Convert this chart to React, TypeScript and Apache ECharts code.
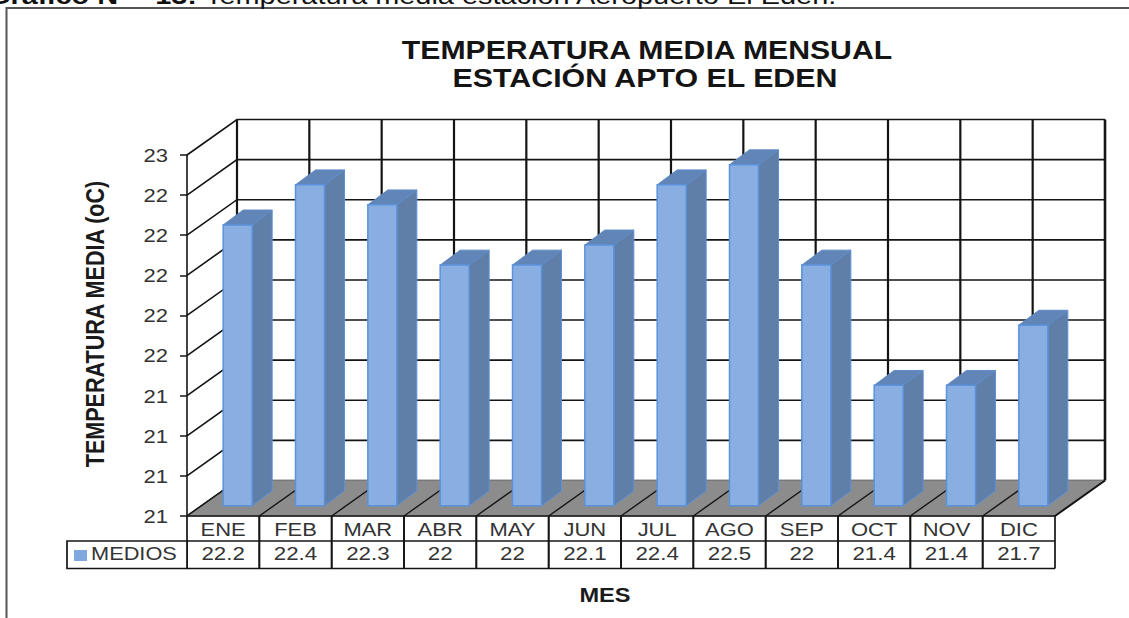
import React, { useEffect, useRef } from "react";
import * as echarts from "echarts";

const categories = ["ENE", "FEB", "MAR", "ABR", "MAY", "JUN", "JUL", "AGO", "SEP", "OCT", "NOV", "DIC"];
const medios = [22.2, 22.4, 22.3, 22, 22, 22.1, 22.4, 22.5, 22, 21.4, 21.4, 21.7];
const axisTicks = [20.8, 21, 21.2, 21.4, 21.6, 21.8, 22, 22.2, 22.4, 22.6];
const seriesName = "MEDIOS";
const titleLines = ["TEMPERATURA MEDIA MENSUAL", "ESTACIÓN APTO EL EDEN"];
const yName = "TEMPERATURA MEDIA (oC)";
const xName = "MES";
const headBold = "Gráfico N° - 13:";
const headText = "Temperatura media estación Aeropuerto El Edén.";

const FONT = "'Liberation Sans', Arial, sans-serif";
const DX = 50; // wall depth offset
const DY = -35.5;
const INK = "#141414";
const ROW1 = 25; // table row heights
const ROW2 = 27.5;
const TEXT = "#333";

const idx = (arr: any[]) => arr.map((v, i) => [i, v]);

const option: any = {
  animation: false,
  backgroundColor: "#fff",
  grid: { left: 187, right: 74, top: 155, bottom: 102 },
  xAxis: {
    type: "category",
    data: categories,
    boundaryGap: true,
    axisLine: { show: false },
    axisTick: { show: false },
    axisLabel: { show: false },
  },
  yAxis: {
    type: "value",
    min: 20.8,
    max: 22.6,
    interval: 0.2,
    splitLine: { show: false },
    axisLine: { show: true, lineStyle: { color: INK, width: 1.6 } },
    axisTick: { show: true, length: 7, lineStyle: { color: INK, width: 1.5 } },
    axisLabel: { show: false },
  },
  series: [
    {
      // left and back wall rules and the tick labels, one per axis tick
      type: "custom",
      z: 1,
      silent: true,
      data: idx(axisTicks),
      encode: { y: 1 },
      renderItem: (params: any, api: any) => {
        const v = api.value(1);
        const cs = params.coordSys;
        const y = api.coord([0, v])[1];
        return {
          type: "group",
          children: [
            {
              type: "polyline",
              shape: {
                points: [
                  [cs.x, y],
                  [cs.x + DX, y + DY],
                  [cs.x + cs.width + DX, y + DY],
                ],
              },
              style: { fill: "none", stroke: INK, lineWidth: 1.6 },
            },
            {
              type: "text",
              x: cs.x - 19,
              y,
              scaleX: 1.16,
              style: {
                text: String(Math.round(v)),
                align: "right",
                verticalAlign: "middle",
                fontFamily: FONT,
                fontSize: 19,
                fill: TEXT,
              },
            },
          ],
        };
      },
    },
    {
      // back wall verticals at category boundaries, plus the floor
      type: "custom",
      z: 2,
      silent: true,
      data: idx(categories.concat([""])),
      encode: { x: 0 },
      renderItem: (params: any, api: any) => {
        const i = api.value(0);
        const cs = params.coordSys;
        const x = cs.x + (cs.width * i) / categories.length;
        const yb = cs.y + cs.height;
        const children: any[] = [
          {
            type: "line",
            shape: { x1: x + DX, y1: cs.y + DY, x2: x + DX, y2: yb + DY },
            style: { stroke: INK, lineWidth: i === categories.length ? 2.6 : 2.2 },
          },
        ];
        if (i === 0) {
          children.push({
            type: "polygon",
            shape: {
              points: [
                [cs.x, yb],
                [cs.x + cs.width, yb],
                [cs.x + cs.width + DX, yb + DY],
                [cs.x + DX, yb + DY],
              ],
            },
            style: { fill: "#8c8c8c", stroke: "#777", lineWidth: 1 },
          });
        }
        return { type: "group", children };
      },
    },
    {
      // floor diagonals
      type: "custom",
      z: 3,
      silent: true,
      data: idx(categories.concat([""])),
      encode: { x: 0 },
      renderItem: (params: any, api: any) => {
        const i = api.value(0);
        const cs = params.coordSys;
        const x = cs.x + (cs.width * i) / categories.length;
        const yb = cs.y + cs.height;
        return {
          type: "line",
          shape: { x1: x, y1: yb, x2: x + DX, y2: yb + DY },
          style: { stroke: INK, lineWidth: i === categories.length ? 2 : 1.4 },
        };
      },
    },
    {
      // 3D bars
      type: "custom",
      name: seriesName,
      z: 4,
      data: idx(medios),
      encode: { x: 0, y: 1 },
      renderItem: (params: any, api: any) => {
        const top = api.coord([api.value(0), api.value(1)]);
        const base = api.coord([api.value(0), 20.8]);
        const w = 29;
        const fx = 0.29 * DX, fy = 0.29 * DY;
        const ddx = 0.4 * DX, ddy = 0.42 * DY;
        const x0 = top[0] + fx - w / 2;
        const x1 = x0 + w;
        const yt = top[1] + fy;
        const yb = base[1] + fy;
        const edge = "#5b92da";
        return {
          type: "group",
          children: [
            {
              type: "polygon",
              shape: { points: [[x1, yt], [x1 + ddx, yt + ddy], [x1 + ddx, yb + ddy], [x1, yb]] },
              style: { fill: "#5f7fa8", stroke: edge, lineWidth: 1 },
            },
            {
              type: "polygon",
              shape: { points: [[x0, yt], [x0 + ddx, yt + ddy], [x1 + ddx, yt + ddy], [x1, yt]] },
              style: { fill: "#6285b8", stroke: "#5f8ac6", lineWidth: 1 },
            },
            {
              type: "rect",
              shape: { x: x0, y: yt, width: w, height: yb - yt },
              style: { fill: "#88aee2", stroke: edge, lineWidth: 1.5 },
            },
          ],
        };
      },
    },
    {
      // data table under the axis
      type: "custom",
      z: 5,
      silent: true,
      data: idx(medios),
      encode: { x: 0 },
      renderItem: (params: any, api: any) => {
        const i = api.value(0);
        const v = api.value(1);
        const cs = params.coordSys;
        const cw = cs.width / categories.length;
        const x = cs.x + cw * i;
        const y0 = cs.y + cs.height;
        const ink = { stroke: INK, lineWidth: 1.7 };
        const cell = (text: string, cy: number, sx: number, size: number) => ({
          type: "text",
          x: x + cw / 2,
          y: cy,
          scaleX: sx,
          style: {
            text,
            align: "center",
            verticalAlign: "middle",
            fontFamily: FONT,
            fontSize: size,
            fill: TEXT,
          },
        });
        return {
          type: "group",
          children: [
            { type: "line", shape: { x1: x, y1: y0, x2: x, y2: y0 + ROW1 + ROW2 }, style: ink },
            { type: "line", shape: { x1: x + cw, y1: y0, x2: x + cw, y2: y0 + ROW1 + ROW2 }, style: ink },
            { type: "line", shape: { x1: x, y1: y0, x2: x + cw, y2: y0 }, style: ink },
            { type: "line", shape: { x1: x, y1: y0 + ROW1, x2: x + cw, y2: y0 + ROW1 }, style: ink },
            { type: "line", shape: { x1: x, y1: y0 + ROW1 + ROW2, x2: x + cw, y2: y0 + ROW1 + ROW2 }, style: ink },
            cell(categories[i], y0 + 14, 1.22, 18),
            cell(String(v), y0 + ROW1 + 13, 1.24, 18),
          ],
        };
      },
    },
  ],
  graphic: [
    { type: "rect", z: 0, shape: { x: 6.5, y: 8, width: 1130, height: 640 }, style: { fill: "none", stroke: "#555", lineWidth: 2 } },
    { type: "rect", z: 10, shape: { x: 67, y: 541, width: 120, height: 27.5 }, style: { fill: "#fff", stroke: INK, lineWidth: 1.7 } },
    { type: "rect", z: 11, shape: { x: 74, y: 550, width: 13, height: 11 }, style: { fill: "#7fa8de" } },
    { type: "text", z: 11, x: 91, y: 554, scaleX: 1.21, style: { text: seriesName, fontFamily: FONT, fontSize: 18, fill: TEXT, verticalAlign: "middle" } },
    { type: "text", z: 11, x: 647, y: 50.5, scaleX: 1.185, style: { text: titleLines[0], fontFamily: FONT, fontSize: 25.5, fontWeight: "bold", fill: "#141414", align: "center", verticalAlign: "middle" } },
    { type: "text", z: 11, x: 645, y: 78, scaleX: 1.19, style: { text: titleLines[1], fontFamily: FONT, fontSize: 25.5, fontWeight: "bold", fill: "#141414", align: "center", verticalAlign: "middle" } },
    { type: "text", z: 11, x: 95, y: 324, rotation: Math.PI / 2, scaleX: 0.98, scaleY: 1.2, style: { text: yName, fontFamily: FONT, fontSize: 22, fontWeight: "bold", fill: "#1a1a1a", align: "center", verticalAlign: "middle" } },
    { type: "text", z: 11, x: 605, y: 595, scaleX: 1.18, style: { text: xName, fontFamily: FONT, fontSize: 20, fontWeight: "bold", fill: "#1a1a1a", align: "center", verticalAlign: "middle" } },
    { type: "text", z: 11, x: 197, y: 8, scaleX: 1.18, style: { text: headBold, fontFamily: FONT, fontSize: 24.5, fontWeight: "bold", fill: "#111", align: "right", verticalAlign: "bottom" } },
    { type: "text", z: 11, x: 205, y: 8, scaleX: 1.18, style: { text: headText, fontFamily: FONT, fontSize: 24.5, fill: "#111", verticalAlign: "bottom" } },
  ],
};

export default function App() {
  const ref = useRef<HTMLDivElement>(null);
  useEffect(() => {
    document.body.style.margin = "0";
    const chart = echarts.init(ref.current!, undefined, { renderer: "svg" });
    chart.setOption(option);
    return () => chart.dispose();
  }, []);
  return <div ref={ref} style={{ width: 1129, height: 618 }} />;
}
